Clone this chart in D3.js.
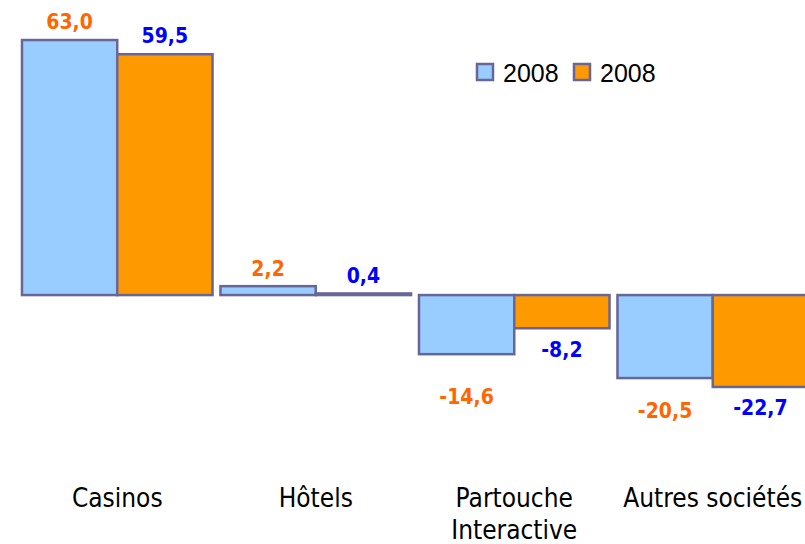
<!DOCTYPE html>
<html>
<head>
<meta charset="utf-8">
<script src="https://cdn.jsdelivr.net/npm/d3@7"></script>
<style>
  html, body { margin: 0; padding: 0; background: #fff; }
  svg { display: block; }
</style>
</head>
<body>
<svg id="chart" width="805" height="544"></svg>
<script>
// ---- data ----
const categories = ["Casinos", "Hôtels", "Partouche\nInteractive", "Autres sociétés"];
const seriesNames = ["2008", "2008"];
const seriesA = [63.0, 2.2, -14.6, -20.5];
const seriesB = [59.5, 0.4, -8.2, -22.7];
const valueLabelsA = ["63,0", "2,2", "-14,6", "-20,5"];
const valueLabelsB = ["59,5", "0,4", "-8,2", "-22,7"];

// ---- layout (label offsets from bar end, px) ----
const labelDyA = [-11, -10, 50, 40];
const labelDyB = [-11, -10, 29, 28];

const fills = ["#99CCFF", "#FF9900"];
const labelColors = ["#FF6600", "#0000FF"];
const strokeColor = "#666699";

const svg = d3.select("#chart");

const x = d3.scaleBand().domain(categories).range([18, 812]).paddingInner(0.04).paddingOuter(0.02);
const xs = d3.scaleBand().domain([0, 1]).range([0, x.bandwidth()]);
const y = d3.scaleLinear().domain([-40, 70]).range([457, 11.7]);

const rows = categories.map((c, i) => ({
  cat: c,
  vals: [seriesA[i], seriesB[i]],
  labels: [valueLabelsA[i], valueLabelsB[i]],
  dys: [labelDyA[i], labelDyB[i]]
}));

const g = svg.selectAll("g.cat").data(rows).join("g")
  .attr("class", "cat")
  .attr("transform", d => `translate(${x(d.cat)},0)`);

g.selectAll("rect").data(d => d.vals.map((v, s) => ({v, s}))).join("rect")
  .attr("x", d => xs(d.s))
  .attr("y", d => Math.min(y(d.v), y(0)))
  .attr("width", xs.bandwidth())
  .attr("height", d => Math.abs(y(d.v) - y(0)))
  .attr("fill", d => fills[d.s])
  .attr("stroke", strokeColor)
  .attr("stroke-width", 2.5);

g.selectAll("text.val").data(d => d.vals.map((v, s) => ({v, s, label: d.labels[s], dy: d.dys[s]}))).join("text")
  .attr("class", "val")
  .attr("x", d => xs(d.s) + xs.bandwidth() / 2)
  .attr("y", d => y(d.v) + d.dy)
  .attr("text-anchor", "middle")
  .attr("font-family", "'DejaVu Sans Condensed', 'DejaVu Sans', sans-serif")
  .attr("font-weight", "bold")
  .attr("font-size", 21)
  .attr("fill", d => labelColors[d.s])
  .text(d => d.label);

// category labels
const catText = svg.selectAll("text.cat").data(categories).join("text")
  .attr("class", "cat")
  .attr("x", d => x(d) + x.bandwidth() / 2)
  .attr("y", 507)
  .attr("text-anchor", "middle")
  .attr("font-family", "'DejaVu Sans Condensed', 'DejaVu Sans', sans-serif")
  .attr("font-size", 26)
  .attr("fill", "#000");
catText.selectAll("tspan").data(d => d.split("\n")).join("tspan")
  .attr("x", function() { return d3.select(this.parentNode).attr("x"); })
  .attr("dy", (d, i) => i === 0 ? 0 : 32)
  .text(d => d);

// legend
const legendX = [476, 573];
const lg = svg.selectAll("g.leg").data(seriesNames).join("g")
  .attr("class", "leg")
  .attr("transform", (d, i) => `translate(${legendX[i]},64)`);
lg.append("rect")
  .attr("x", 1).attr("y", 0).attr("width", 16).attr("height", 16)
  .attr("fill", (d, i) => fills[i])
  .attr("stroke", strokeColor)
  .attr("stroke-width", 2.5);
lg.append("text")
  .attr("x", 27).attr("y", 18)
  .attr("font-family", "'Liberation Sans', Arial, sans-serif")
  .attr("font-size", 25)
  .attr("fill", "#000")
  .text(d => d);
</script>
</body>
</html>
